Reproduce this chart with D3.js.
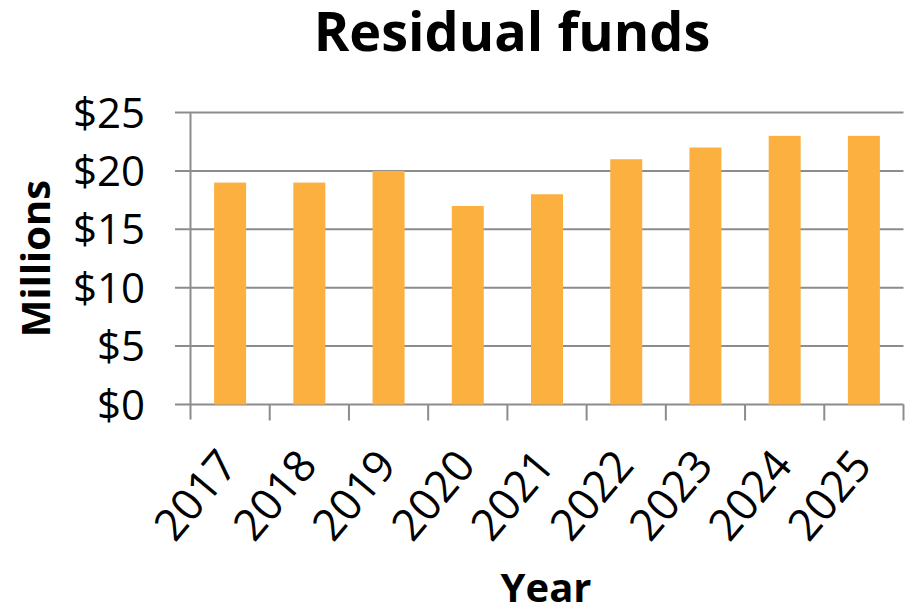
<!DOCTYPE html>
<html><head><meta charset="utf-8">
<script src="https://cdn.jsdelivr.net/npm/d3@7"></script>
<style>body{margin:0;background:#fff}</style>
</head><body>
<svg id="c" width="905" height="610"></svg>
<script>
const years = ["2017","2018","2019","2020","2021","2022","2023","2024","2025"];
const values = [19,19,20,17,18,21,22,23,23];
const yTicks = [0,5,10,15,20,25];

const svg = d3.select("#c");
const font = "'Open Sans', Lato, sans-serif";
const pL = 190.5, pR = 903.5, pT = 112.5, pB = 404.5;
const xb = d3.scaleBand().domain(years).range([pL,pR]);
const y = d3.scaleLinear().domain([0,25]).range([pB,pT]);
const grid = "#8c8c8c";

// gridlines
svg.append("g").selectAll("line").data(yTicks).join("line")
  .attr("x1",175).attr("x2",pR).attr("y1",d=>y(d)).attr("y2",d=>y(d))
  .attr("stroke",grid).attr("stroke-width",2);
// y axis line
svg.append("line").attr("x1",pL).attr("x2",pL).attr("y1",pT).attr("y2",pB+15)
  .attr("stroke",grid).attr("stroke-width",2);
// x ticks at category boundaries
const bounds = years.map(d=>xb(d)).concat([pR]);
svg.append("g").selectAll("line").data(bounds.slice(1)).join("line")
  .attr("x1",d=>d).attr("x2",d=>d).attr("y1",pB).attr("y2",pB+16)
  .attr("stroke",grid).attr("stroke-width",2);

// bars
svg.append("g").selectAll("rect").data(values).join("rect")
  .attr("x",(d,i)=>xb(years[i])+xb.bandwidth()/2-16)
  .attr("width",32)
  .attr("y",d=>y(d)).attr("height",d=>pB-y(d))
  .attr("fill","#FBB040");

// y tick labels
svg.append("g").selectAll("text").data(yTicks).join("text")
  .attr("x",145).attr("y",d=>y(d)).attr("dy","0.36em")
  .attr("text-anchor","end").attr("font-family",font).attr("font-size",42)
  .attr("fill","#000").text(d=>"$"+d);

// x tick labels
svg.append("g").selectAll("text").data(years).join("text")
  .attr("transform",d=>`translate(${xb(d)+xb.bandwidth()/2+9.5},${pB+62}) rotate(-50)`)
  .attr("text-anchor","end")
  .attr("font-family",font).attr("font-size",44).attr("fill","#000").text(d=>d);

// title
svg.append("text").attr("x",512).attr("y",51).attr("text-anchor","middle")
  .attr("font-family",font).attr("font-weight","bold").attr("font-size",54).text("Residual funds");
// x title
svg.append("text").attr("x",546).attr("y",602).attr("text-anchor","middle")
  .attr("font-family",font).attr("font-weight","bold").attr("font-size",40).text("Year");
// y title
svg.append("text").attr("transform",`translate(50,${(pT+pB)/2}) rotate(-90)`)
  .attr("text-anchor","middle").attr("font-family",font).attr("font-weight","bold")
  .attr("font-size",40).text("Millions");
</script>
</body></html>
